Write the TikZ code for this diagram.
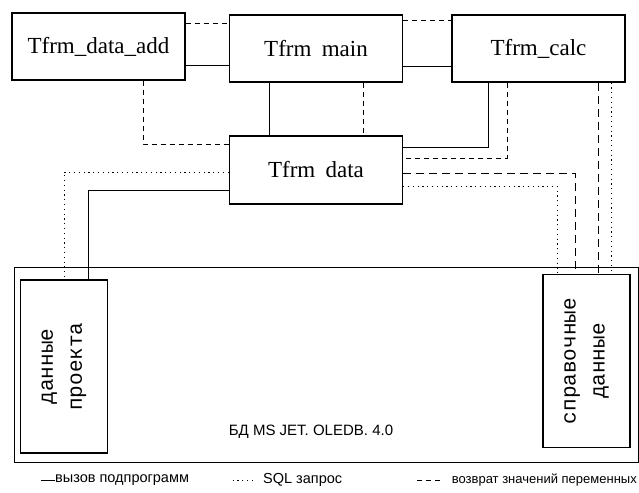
\documentclass[tikz,border=0pt]{standalone}
\usepackage{fontspec}
\setmainfont{Liberation Serif}
\newfontfamily\cyrmono{Liberation Mono}
\newfontfamily\cyrsans{Liberation Sans}
\usepackage{tikz}
\usetikzlibrary{positioning,calc}

\begin{document}
\begin{tikzpicture}[x=1pt, y=-1pt,
    form/.style={draw, line width=1.3pt, minimum width=173pt, minimum height=67pt, inner sep=0pt, font=\fontsize{23}{27}\selectfont},
    dbtable/.style={draw, line width=1.1pt, minimum width=173pt, minimum height=87pt, inner sep=0pt, rotate=90, align=center, font=\cyrmono\fontsize{21}{29}\selectfont},
    legend/.style={inner sep=0pt, anchor=west, font=\cyrsans\fontsize{14.5}{16}\selectfont},
    call/.style={line width=1pt},
    sql/.style={line width=1pt, dash pattern=on 1.2pt off 3.6pt},
    ret/.style={line width=1pt, dash pattern=on 5pt off 4pt},
    retlong/.style={line width=1pt, dash pattern=on 8pt off 5pt}]
    \useasboundingbox (0,0) rectangle (639,492);
    % forms
    \node[form] (add) at (98.5,46.5) {Tfrm\_data\_add};
    \node[form] (main) at (316,48.5) {Tfrm\hspace{0.45em}main};
    \node[form] (calc) at (538.5,48.5) {Tfrm\_calc};
    \node[form, minimum height=68pt] (data) at (316,170) {Tfrm\hspace{0.45em}data};
    % database
    \node[draw, line width=1pt, minimum width=624pt, minimum height=195pt, inner sep=0pt] (db) at (326,364.5) {};
    \node[font=\cyrsans\fontsize{15}{17}\selectfont] (dbname) at (311,432) {БД MS JET. OLEDB. 4.0};
    \node[dbtable] (proj) at (64,366.5) {данные\\проекта};
    \node[dbtable] (ref) at (586.5,361) {справочные\\данные};
    % links between forms
    \draw[ret] (add.east |- 0,24) -- (main.west |- 0,24);
    \draw[call] (add.east |- 0,66) -- (main.west |- 0,66);
    \draw[ret] (main.east |- 0,21) -- (calc.west |- 0,21);
    \draw[call] (main.east |- 0,67) -- (calc.west |- 0,67);
    \draw[ret] (add.south -| 143,0) |- (data.west |- 0,144);
    \draw[call] (main.south -| 269,0) -- (data.north -| 269,0);
    \draw[ret] (main.south -| 363,0) -- (data.north -| 363,0);
    \draw[call] (calc.south -| 488,0) |- (data.east |- 0,147);
    \draw[ret] (calc.south -| 507,0) |- (data.east |- 0,158);
    % links to the tables
    \draw[sql] (data.west |- 0,172) -| (proj.east -| 64,0);
    \draw[call] (data.west |- 0,190) -| (proj.east -| 88,0);
    \draw[retlong] (data.east |- 0,173) -| (ref.east -| 575,0);
    \draw[sql] (data.east |- 0,186) -| (ref.east -| 557,0);
    \draw[retlong] (calc.south -| 598,0) -- (ref.east -| 598,0);
    \draw[sql] (calc.south -| 611,0) -- (ref.east -| 611,0);
    % legend
    \node[legend] (leg1) at (55,480) {вызов подпрограмм};
    \draw[call] (leg1.west) -- ++(-14,0);
    \node[legend] (leg2) at (263,480) {SQL запрос};
    \draw[sql] ([xshift=-10pt]leg2.west) -- ++(-22,0);
    \node[legend, anchor=east, font=\cyrsans\fontsize{13}{15}\selectfont] (leg3) at (637,480) {возврат значений переменных};
    \draw[ret] ([xshift=-12pt]leg3.west) -- ++(-24,0);
\end{tikzpicture}
\end{document}
